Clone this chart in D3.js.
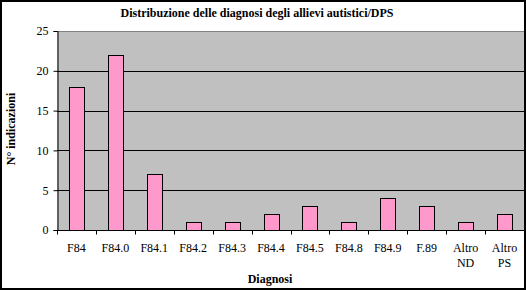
<!DOCTYPE html>
<html lang="it">
  <head>
    <meta charset="utf-8">
    <title>Distribuzione delle diagnosi</title>
    <script type="text/javascript" src="https://cdn.jsdelivr.net/npm/d3@7"></script>
    <style>
      body { margin: 0; background: #fff; }
      svg text { font-family: "Liberation Serif", "Times New Roman", serif !important; }
    </style>
  </head>
  <body>
    <script type="text/javascript">
      // Data
      var categories = ["F84", "F84.0", "F84.1", "F84.2", "F84.3", "F84.4", "F84.5", "F84.8", "F84.9", "F.89", "Altro ND", "Altro PS"];
      var values = [18, 22, 7, 1, 1, 2, 3, 1, 4, 3, 1, 2];
      var yTicks = [0, 5, 10, 15, 20, 25];

      var W = 526, H = 290;
      var plot = {left: 57, right: 524, top: 31, bottom: 230};
      var serif = "Liberation Serif";

      var svg = d3.select("body").append("svg")
                  .attr("width", W)
                  .attr("height", H);

      var x = d3.scaleBand()
                .domain(categories)
                .range([plot.left, plot.right]);
      var y = d3.scaleLinear()
                .domain([0, 25])
                .range([plot.bottom, plot.top]);

      // outer frame
      svg.append("rect")
        .attr("x", 1).attr("y", 1)
        .attr("width", W - 2).attr("height", H - 2)
        .attr("fill", "#fff")
        .attr("stroke", "#000")
        .attr("stroke-width", 2);

      // plot area
      svg.append("rect")
        .attr("x", plot.left).attr("y", plot.top)
        .attr("width", plot.right - plot.left)
        .attr("height", plot.bottom - plot.top)
        .attr("fill", "#c0c0c0");
      svg.append("line")
        .attr("x1", plot.left).attr("x2", plot.right)
        .attr("y1", plot.top + 0.5).attr("y2", plot.top + 0.5)
        .attr("stroke", "#808080");

      // gridlines
      svg.selectAll("line.grid")
        .data(yTicks.filter(function(d) { return d > 0 && d < 25; }))
        .enter().append("line")
        .attr("class", "grid")
        .attr("x1", plot.left).attr("x2", plot.right)
        .attr("y1", function(d) { return Math.round(y(d)) + 0.5; })
        .attr("y2", function(d) { return Math.round(y(d)) + 0.5; })
        .attr("stroke", "#000");

      // bars
      var bw = 15;
      svg.selectAll("rect.bar")
        .data(values)
        .enter().append("rect")
        .attr("class", "bar")
        .attr("x", function(d, i) { return Math.round(x(categories[i]) + x.bandwidth() / 2 - bw / 2) + 0.5; })
        .attr("y", function(d) { return Math.round(y(d)) + 0.5; })
        .attr("width", bw)
        .attr("height", function(d) { return Math.round(y(0)) - Math.round(y(d)); })
        .attr("fill", "#ff99cc")
        .attr("stroke", "#000");

      // y axis
      var yAxis = svg.append("g")
        .attr("transform", "translate(" + (plot.left + 0.5) + ",0)")
        .call(d3.axisLeft(y).tickValues(yTicks).tickSize(4).tickPadding(5));
      yAxis.attr("font-family", serif).attr("font-size", 12);
      yAxis.select(".domain").attr("stroke", "#000");
      yAxis.selectAll("text").attr("fill", "#000");

      // x axis
      var xAxis = svg.append("g")
        .attr("transform", "translate(0," + (plot.bottom + 0.5) + ")");
      xAxis.append("line")
        .attr("x1", plot.left).attr("x2", plot.right)
        .attr("stroke", "#000");
      xAxis.selectAll("line.tick")
        .data(categories)
        .enter().append("line")
        .attr("class", "tick")
        .attr("x1", function(d) { return Math.round(x(d)) + 0.5; })
        .attr("x2", function(d) { return Math.round(x(d)) + 0.5; })
        .attr("y1", 0).attr("y2", 4)
        .attr("stroke", "#000");
      xAxis.selectAll("text")
        .data(categories)
        .enter().append("text")
        .attr("x", function(d) { return x(d) + x.bandwidth() / 2; })
        .attr("y", 21)
        .attr("text-anchor", "middle")
        .attr("font-family", serif)
        .attr("font-size", 12)
        .each(function(d) {
          var parts = d.split(" ");
          var t = d3.select(this);
          parts.forEach(function(p, k) {
            t.append("tspan")
              .attr("x", x(d) + x.bandwidth() / 2)
              .attr("dy", k === 0 ? 0 : 15)
              .text(p);
          });
        });

      // title and axis titles
      svg.append("text")
        .attr("x", 257).attr("y", 17)
        .attr("text-anchor", "middle")
        .attr("font-family", serif)
        .attr("font-size", 12)
        .attr("font-weight", "bold")
        .text("Distribuzione delle diagnosi degli allievi autistici/DPS");
      svg.append("text")
        .attr("x", 270).attr("y", 283)
        .attr("text-anchor", "middle")
        .attr("font-family", serif)
        .attr("font-size", 12)
        .attr("font-weight", "bold")
        .text("Diagnosi");
      svg.append("text")
        .attr("transform", "translate(15,129) rotate(-90)")
        .attr("text-anchor", "middle")
        .attr("font-family", serif)
        .attr("font-size", 12)
        .attr("font-weight", "bold")
        .text("N° indicazioni");
    </script>
  </body>
</html>
